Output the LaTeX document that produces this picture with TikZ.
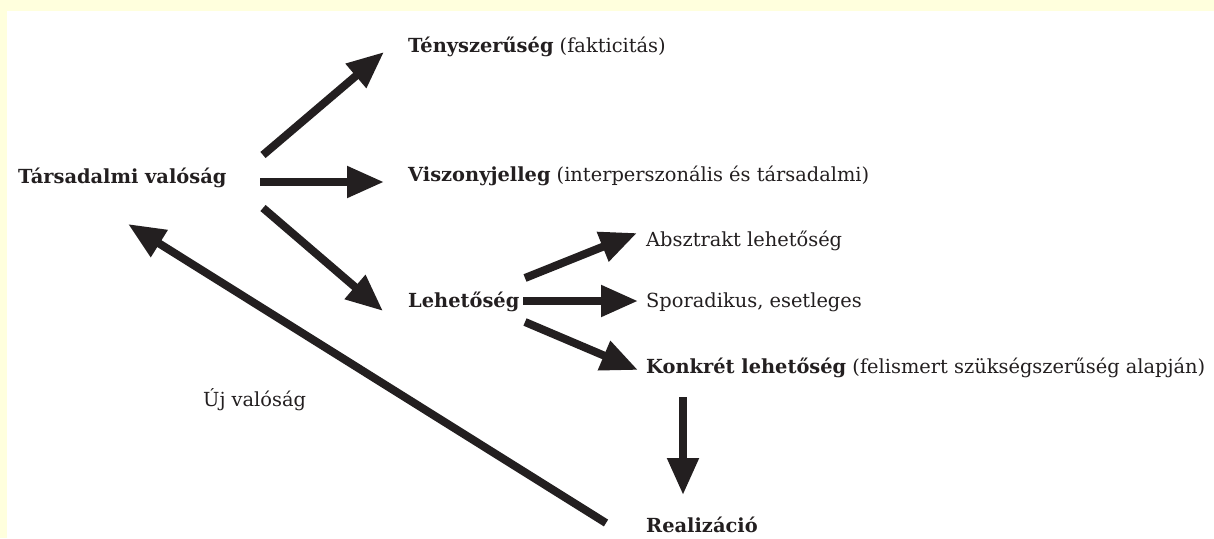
\documentclass[tikz,border=0pt]{standalone}
\usepackage{fontspec}
\setmainfont{DejaVu Serif}
\usetikzlibrary{arrows.meta}
\definecolor{ink}{HTML}{231F20}
\definecolor{paper}{RGB}{255,255,221}
\tikzset{
  lbl/.style={anchor=base west, inner sep=0pt, text=ink, font=\fontsize{19.4}{23}\selectfont},
  arr/.style={draw=ink, line width=8pt, -{Triangle[length=37pt,width=30pt]}}
}
\begin{document}
\begin{tikzpicture}[x=1pt,y=-1pt]
\useasboundingbox (0,0) rectangle (1214,538);
\fill[paper] (0,0) rectangle (1214,538);
\fill[white] (7,11) rectangle (1214,538);

\node[lbl] (tars) at (18,183) {\bfseries Társadalmi valóság};
\node[lbl] (teny) at (408,52) {\textbf{Tényszerűség} (fakticitás)};
\node[lbl] (visz) at (408,181) {\textbf{Viszonyjelleg} (interperszonális és társadalmi)};
\node[lbl] (leh) at (408,307) {\bfseries Lehetőség};
\node[lbl] (abs) at (646,246) {Absztrakt lehetőség};
\node[lbl] (spor) at (646,307) {Sporadikus, esetleges};
\node[lbl] (konk) at (646,373) {\textbf{Konkrét lehetőség} (felismert szükségszerűség alapján)};
\node[lbl] (uj) at (203,406) {Új valóság};
\node[lbl] (real) at (646,532) {\bfseries Realizáció};

\draw[arr] ([shift={(245,-28)}]tars.base west) -- ([shift={(-24,0)}]teny.base west);
\draw[arr] ([shift={(242,-1)}]tars.base west) -- ([shift={(-24,1)}]visz.base west);
\draw[arr] ([shift={(245,25)}]tars.base west) -- ([shift={(-25,4)}]leh.base west);
\draw[arr] ([shift={(117,-29)}]leh.base west) -- ([shift={(-9,-13)}]abs.base west);
\draw[arr] ([shift={(115,-6)}]leh.base west) -- ([shift={(-8,-6)}]spor.base west);
\draw[arr] ([shift={(117,15)}]leh.base west) -- ([shift={(-8,-3)}]konk.base west);
\draw[arr] ([shift={(37,24)}]konk.base west) -- ([shift={(37,-37)}]real.base west);
\draw[arr] ([shift={(-40,-9)}]real.base west) -- ([shift={(110,41)}]tars.base west);
\end{tikzpicture}
\end{document}
